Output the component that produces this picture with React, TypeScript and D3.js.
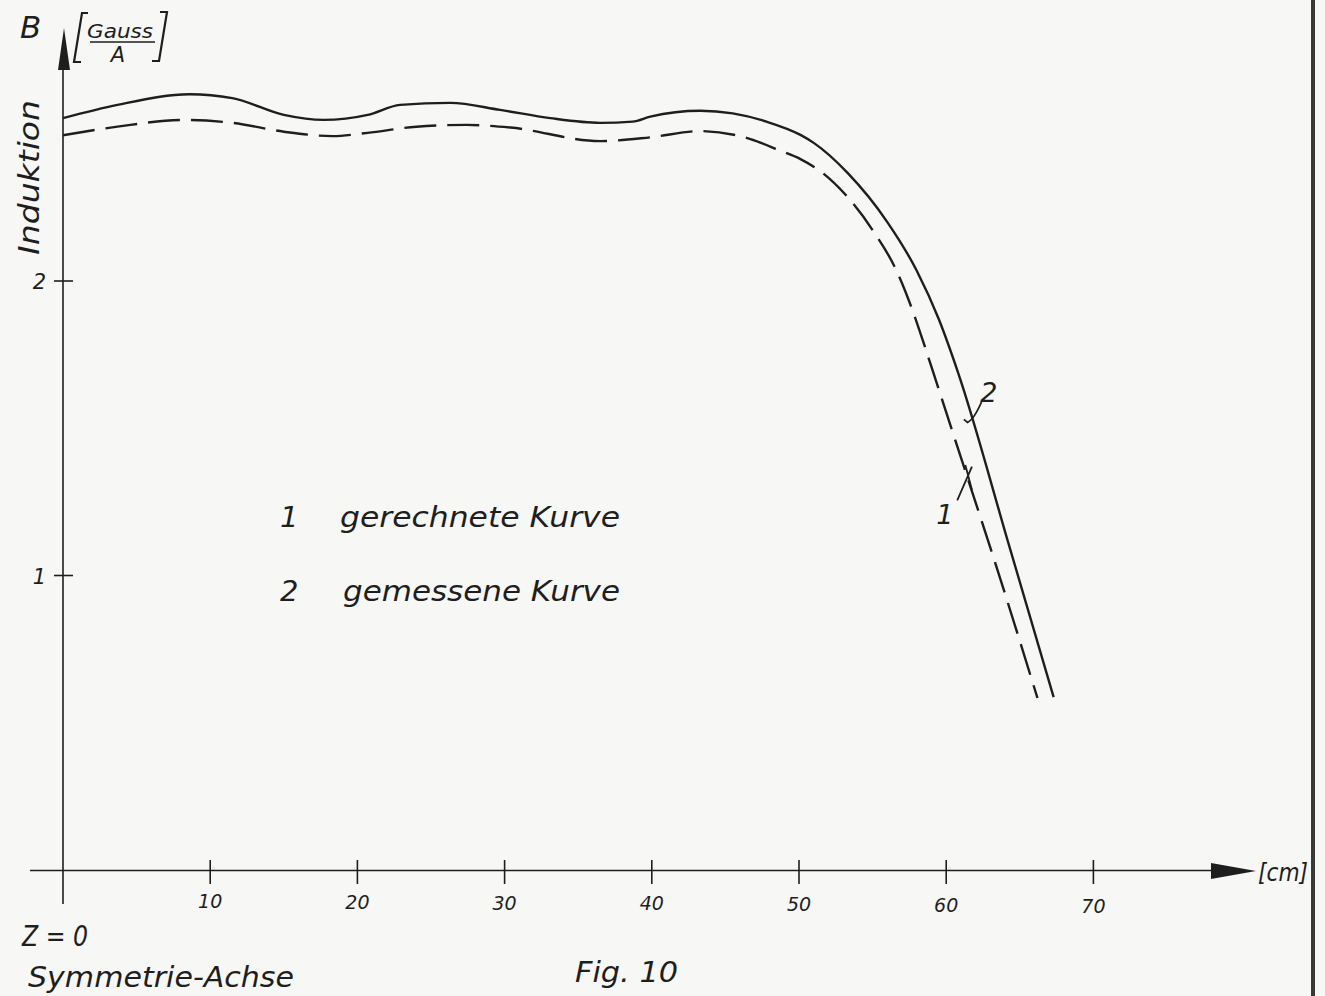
import * as d3 from "d3";

// curve 1: gerechnete Kurve (dashed), curve 2: gemessene Kurve (solid)
const calcX = [0, 3.7, 8.2, 11.5, 15, 18.3, 20.7, 24, 27.4, 30.4, 36.5, 39.9, 43.3, 46.7, 48.7, 50.1, 51.6, 53.3, 55, 56.7, 57.7, 58.4, 59.0, 61.5, 63.2, 66.2];
const calcB = [2.495, 2.524, 2.547, 2.537, 2.507, 2.492, 2.503, 2.524, 2.53, 2.521, 2.475, 2.488, 2.509, 2.482, 2.443, 2.414, 2.367, 2.285, 2.173, 2.027, 1.902, 1.8, 1.708, 1.324, 1.063, 0.584];

const measX = [0, 3.7, 8.6, 11.5, 15, 17.7, 20.7, 22.9, 26.3, 29.7, 33.1, 36.5, 38.7, 39.9, 43.3, 45.5, 47.8, 50.1, 51, 53.3, 56.0, 58.0, 59.5, 60.8, 64.3, 67.3];
const measB = [2.553, 2.598, 2.634, 2.621, 2.564, 2.547, 2.564, 2.598, 2.605, 2.581, 2.553, 2.537, 2.541, 2.558, 2.578, 2.569, 2.541, 2.496, 2.469, 2.367, 2.2, 2.035, 1.87, 1.69, 1.097, 0.587];

const xTicks = [10, 20, 30, 40, 50, 60, 70];
const yTicks = [1, 2];
const legendNums = ["1", "2"];
const legendTexts = ["gerechnete Kurve", "gemessene Kurve"];

const ink = "#1e1e1e";
const font = "DejaVu Sans, sans-serif";

export default function App() {
  const width = 1325;
  const height = 996;

  const x = d3.scaleLinear().domain([0, 70]).range([63, 1093.4]);
  const y = d3.scaleLinear().domain([0, 2]).range([870, 281]);

  const line = d3
    .line<[number, number]>()
    .x((d) => x(d[0]))
    .y((d) => y(d[1]))
    .curve(d3.curveMonotoneX);

  const calcPath = line(calcX.map((v, i) => [v, calcB[i]]));
  const measPath = line(measX.map((v, i) => [v, measB[i]]));

  // leader lines for the curve labels
  const lead2 = `M${x(62.45)},${y(1.595)} Q${x(61.9)},${y(1.53)} ${x(61.45)},${y(1.52)} L${x(61.2)},${y(1.53)}`;
  const lead1 = `M${x(60.75)},${y(1.255)} L${x(61.75)},${y(1.37)} M${x(61.3)},${y(1.375)} L${x(61.75)},${y(1.29)}`;

  return (
    <svg
      width={width}
      height={height}
      style={{ position: "absolute", left: 0, top: 0, background: "#f7f7f6" }}
    >
      <rect width={width} height={height} fill="#f7f7f6" />

      {/* right border of the sheet */}
      <rect x={1311} y={0} width={4} height={height} fill="#3a3a3a" />

      {/* axes */}
      <line x1={63} y1={904} x2={63} y2={62} stroke={ink} strokeWidth={1.6} />
      <polygon points="64,28 58,70 70,70" fill={ink} />
      <line x1={30} y1={870.5} x2={1215} y2={870.5} stroke={ink} strokeWidth={1.6} />
      <polygon points="1211,863 1256,871 1211,879" fill={ink} />

      {xTicks.map((t) => (
        <g key={t}>
          <line x1={x(t)} y1={860} x2={x(t)} y2={884} stroke={ink} strokeWidth={1.6} />
          <text
            x={x(t)}
            y={908 + (t - 10) * 0.08}
            textAnchor="middle"
            fontFamily={font}
            fontStyle="italic"
            fontSize={19}
            fill={ink}
          >
            {t}
          </text>
        </g>
      ))}

      {yTicks.map((t) => (
        <g key={t}>
          <line x1={54} y1={y(t)} x2={73} y2={y(t)} stroke={ink} strokeWidth={1.6} />
          <text
            x={46}
            y={y(t) + 8}
            textAnchor="end"
            fontFamily={font}
            fontStyle="italic"
            fontSize={21}
            fill={ink}
          >
            {t}
          </text>
        </g>
      ))}

      {/* axis titles */}
      <text x={20} y={38} fontFamily={font} fontStyle="italic" fontSize={31} fill={ink}>
        B
      </text>
      <path d="M88,13 L82,13 L74,62 L81,62" fill="none" stroke={ink} strokeWidth={2.2} />
      <path d="M160,12 L167,12 L159,61 L152,61" fill="none" stroke={ink} strokeWidth={2.2} />
      <text x={120} y={38} textAnchor="middle" fontFamily={font} fontStyle="italic" fontSize={20} fill={ink} textLength={66} lengthAdjust="spacingAndGlyphs">
        Gauss
      </text>
      <line x1={90} y1={42} x2={155} y2={42} stroke={ink} strokeWidth={1.6} />
      <text x={118} y={62} textAnchor="middle" fontFamily={font} fontStyle="italic" fontSize={21} fill={ink}>
        A
      </text>
      <text
        transform="translate(39,255) rotate(-90)"
        fontFamily={font}
        fontStyle="italic"
        fontSize={29}
        fill={ink}
        textLength={155}
        lengthAdjust="spacingAndGlyphs"
      >
        Induktion
      </text>
      <text x={1258} y={881} fontFamily={font} fontStyle="italic" fontSize={25} fill={ink} textLength={50} lengthAdjust="spacingAndGlyphs">
        [cm]
      </text>

      {/* curves */}
      <path d={measPath ?? ""} fill="none" stroke={ink} strokeWidth={2.4} />
      <path d={calcPath ?? ""} fill="none" stroke={ink} strokeWidth={2.4} strokeDasharray="32 11" />

      {/* curve labels */}
      <path d={lead2} fill="none" stroke={ink} strokeWidth={1.8} />
      <path d={lead1} fill="none" stroke={ink} strokeWidth={1.8} />
      <text x={x(62.9)} y={y(1.59)} textAnchor="middle" fontFamily={font} fontStyle="italic" fontSize={27} fill={ink}>
        2
      </text>
      <text x={x(59.9)} y={y(1.175)} textAnchor="middle" fontFamily={font} fontStyle="italic" fontSize={27} fill={ink}>
        1
      </text>

      {/* legend */}
      {legendNums.map((n, i) => (
        <g key={n}>
          <text x={280} y={527 + i * 74} fontFamily={font} fontStyle="italic" fontSize={29} fill={ink}>
            {n}
          </text>
          <text
            x={340 + i * 3}
            y={527 + i * 74}
            fontFamily={font}
            fontStyle="italic"
            fontSize={29}
            fill={ink}
            textLength={280 - i * 3}
            lengthAdjust="spacingAndGlyphs"
          >
            {legendTexts[i]}
          </text>
        </g>
      ))}

      {/* footer */}
      <text x={22} y={946} fontFamily={font} fontStyle="italic" fontSize={29} fill={ink} textLength={66} lengthAdjust="spacingAndGlyphs">
        Z = 0
      </text>
      <text x={28} y={987} fontFamily={font} fontStyle="italic" fontSize={29} fill={ink} textLength={266} lengthAdjust="spacingAndGlyphs">
        Symmetrie-Achse
      </text>
      <text x={575} y={982} fontFamily={font} fontStyle="italic" fontSize={29} fill={ink} textLength={103} lengthAdjust="spacingAndGlyphs">
        Fig. 10
      </text>
    </svg>
  );
}
